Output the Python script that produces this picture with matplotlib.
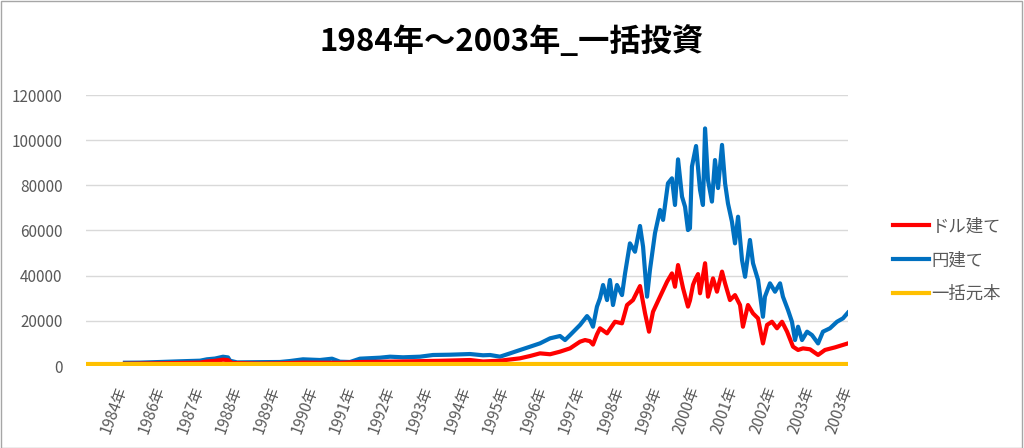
import matplotlib
matplotlib.use("Agg")
import matplotlib.pyplot as plt
from matplotlib.patches import Rectangle

plt.rcParams['font.family'] = ['Noto Sans CJK JP', 'DejaVu Sans']

# x = trading-day index
yen_x = [255, 354, 485, 616, 747, 792, 845, 897, 930, 943, 989, 1139, 1270, 1336, 1421,
         1532, 1611, 1663, 1729, 1794, 1925, 1991, 2076, 2187, 2272, 2384, 2515, 2600, 2646,
         2711, 2777, 2842, 2908, 2973, 3039, 3104, 3137, 3170, 3235, 3281, 3300, 3320, 3346,
         3366, 3386, 3412, 3431, 3451, 3477, 3510, 3530, 3562, 3595, 3628, 3648, 3674, 3693,
         3726, 3759, 3779, 3811, 3837, 3857, 3877, 3903, 3923, 3942, 3955, 3968, 3995, 4021,
         4040, 4054, 4073, 4099, 4119, 4139, 4165, 4185, 4204, 4230, 4250, 4270, 4296, 4316,
         4348, 4368, 4401, 4433, 4446, 4479, 4512, 4545, 4564, 4597, 4623, 4643, 4663, 4689,
         4722, 4754, 4794, 4826, 4872, 4918, 4957, 4989]
yen_val = [1450, 1500, 1770, 2080, 2350, 2960, 3300, 4100, 3800, 2350, 1600, 1700, 1770, 2200,
           2960, 2650, 3240, 1900, 1770, 3240, 3680, 4120, 3850, 4120, 4870, 5000, 5300, 4740,
           4870, 4130, 5600, 7080, 8550, 10030, 12250, 13280, 11500, 13700, 18150, 22100, 20500,
           17400, 26260, 30000, 35870, 29200, 38080, 27000, 35870, 31400, 41000, 54300, 50600,
           62000, 52800, 30700, 42500, 58800, 69100, 64700, 80900, 83100, 71300, 91500, 75000,
           70500, 60200, 61000, 88300, 97400, 78000, 71300, 105200, 82400, 72800, 91200, 78800,
           97900, 80900, 72000, 63900, 54300, 66100, 46900, 39500, 55800, 45500, 38100, 21800,
           30700, 36600, 32900, 36600, 30700, 24800, 19600, 11500, 17400, 11500, 15200, 13700,
           10000, 15200, 16700, 19600, 21100, 23600]

usd_x = [255, 485, 747, 792, 845, 897, 930, 956, 1139, 1270, 1421, 1663, 1794, 2056, 2318,
         2515, 2600, 2711, 2842, 2908, 2973, 3039, 3104, 3170, 3235, 3268, 3300, 3320, 3346,
         3366, 3412, 3464, 3510, 3543, 3582, 3628, 3661, 3687, 3713, 3759, 3805, 3837, 3857,
         3877, 3910, 3942, 3955, 3975, 3988, 4008, 4021, 4054, 4073, 4106, 4132, 4165, 4185,
         4217, 4250, 4283, 4302, 4335, 4368, 4401, 4433, 4460, 4492, 4525, 4558, 4591, 4630,
         4663, 4695, 4741, 4794, 4839, 4905, 4989]
usd_val = [1000, 1200, 1500, 2000, 2300, 2800, 2600, 1300, 1100, 1200, 1500, 1400, 1770, 2000,
           2300, 2650, 2000, 2350, 3400, 4430, 5600, 5200, 6350, 7820, 10760, 11500, 11000,
           9500, 14000, 16700, 14460, 19600, 18900, 27000, 29200, 35400, 23300, 15200, 24000,
           30700, 37300, 41000, 35100, 44700, 34400, 26300, 29000, 35900, 38100, 40700, 32200,
           45500, 30700, 38800, 32900, 41800, 36600, 29200, 31400, 27000, 17400, 27000, 23300,
           21100, 10000, 18200, 19600, 16700, 19600, 15200, 8550, 7100, 7800, 7400, 4900, 7100,
           8250, 10000]

principal_x = [0, 4989]
principal_val = [1000, 1000]

tick_pos = [240 + 250 * k for k in range(20)]
tick_labels = ['1984年', '1986年', '1987年', '1988年', '1989年', '1990年', '1991年', '1992年',
               '1993年', '1994年', '1995年', '1996年', '1997年', '1998年', '1999年', '2000年',
               '2001年', '2002年', '2003年', '2003年']

fig = plt.figure(figsize=(10.24, 4.48), dpi=100)
ax = fig.add_axes([86 / 1024, 1 - 366 / 448, 762 / 1024, 271 / 448])

ax.plot(usd_x, usd_val, color='#FF0000', linewidth=3, label='ドル建て', zorder=3)
ax.plot(yen_x, yen_val, color='#0070C0', linewidth=3, label='円建て', zorder=2)
ax.plot(principal_x, principal_val, color='#FFC000', linewidth=3, label='一括元本', zorder=4)

ax.set_xlim(0, 4990)
ax.set_ylim(0, 120000)
ax.set_yticks(range(0, 120001, 20000))
ax.grid(axis='y', color='#d9d9d9', linewidth=1)
ax.set_axisbelow(True)
for s in ax.spines.values():
    s.set_visible(False)

ax.set_xticks(tick_pos)
ax.set_xticklabels(tick_labels, rotation=70, ha='right', va='center',
                   rotation_mode='anchor')
ax.tick_params(axis='both', length=0, labelsize=11, labelcolor='#595959')
ax.tick_params(axis='x', pad=15)
ax.tick_params(axis='y', pad=17)

fig.text(0.5, 1 - 42 / 448, '1984年～2003年_一括投資', ha='center', va='center',
         fontsize=22.5, fontweight='bold', color='black')

fig.legend(loc='center left', bbox_to_anchor=(884 / 1024, 1 - 260 / 448), frameon=False,
           fontsize=12.5, handlelength=2.1, handletextpad=0.15, labelspacing=0.9,
           borderpad=0, labelcolor='#595959')

fig.patches.append(Rectangle((0.0005, 0.001), 0.998, 0.997, transform=fig.transFigure,
                             fill=False, edgecolor='#a6a6a6', linewidth=1))

fig.savefig('out.png', dpi=100)
